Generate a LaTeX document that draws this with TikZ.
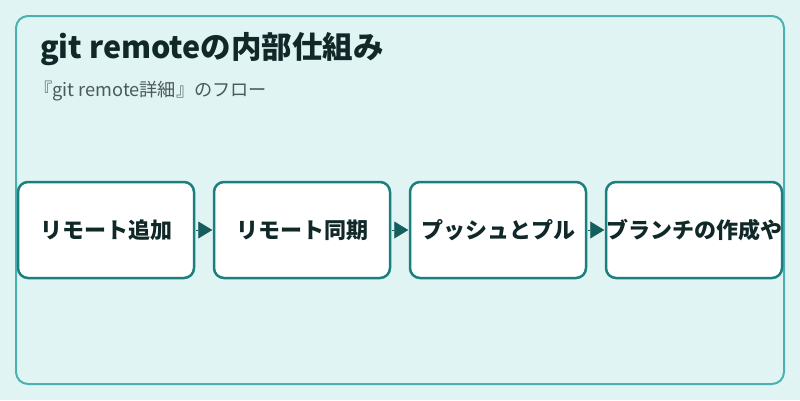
\documentclass[tikz,border=0pt]{standalone}
\usepackage{fontspec}
\setmainfont{Noto Sans CJK JP}
\usetikzlibrary{arrows.meta}
\definecolor{pagebg}{HTML}{E0F4F3}
\definecolor{frameline}{HTML}{4BB0B0}
\definecolor{stepline}{HTML}{1B7F7E}
\definecolor{arrowfill}{HTML}{155E5E}
\definecolor{darktext}{HTML}{112828}
\definecolor{graytext}{HTML}{4A5A5A}

\begin{document}
\begin{tikzpicture}[x=1pt,y=-1pt,
    stepbox/.style={rectangle,rounded corners=10pt,draw=stepline,line width=2.5pt,fill=white,
      minimum width=176pt,minimum height=96pt,inner sep=0pt,
      font=\fontsize{22}{26}\selectfont\bfseries,text=darktext},
    flow/.style={draw=arrowfill,line width=0.5pt,-{Triangle[length=14pt,width=17pt]},shorten <=0.5pt,shorten >=0.5pt}]
        \useasboundingbox (0,0) rectangle (800,400);
        \fill[pagebg] (0,0) rectangle (800,400);
        \draw[frameline,line width=2pt,rounded corners=12pt] (16,16) rectangle (784,384);

        \node[anchor=base west,inner sep=0pt,text=darktext,font=\fontsize{30.5}{36}\selectfont\bfseries] (title) at (40,58) {git remoteの内部仕組み};
        \node[anchor=base west,inner sep=0pt,text=graytext,font=\fontsize{18.2}{22}\selectfont] (subtitle) at (34,96) {『git remote詳細』のフロー};

        \node[stepbox] (add) at (106,230) {リモート追加};
        \node[stepbox] (sync) at (302,230) {リモート同期};
        \node[stepbox] (push) at (498,230) {プッシュとプル};
        \node[stepbox] (branch) at (694,230) {ブランチの作成や};

        \draw[flow] (add) -- (sync);
        \draw[flow] (sync) -- (push);
        \draw[flow] (push) -- (branch);
      \end{tikzpicture}
\end{document}
